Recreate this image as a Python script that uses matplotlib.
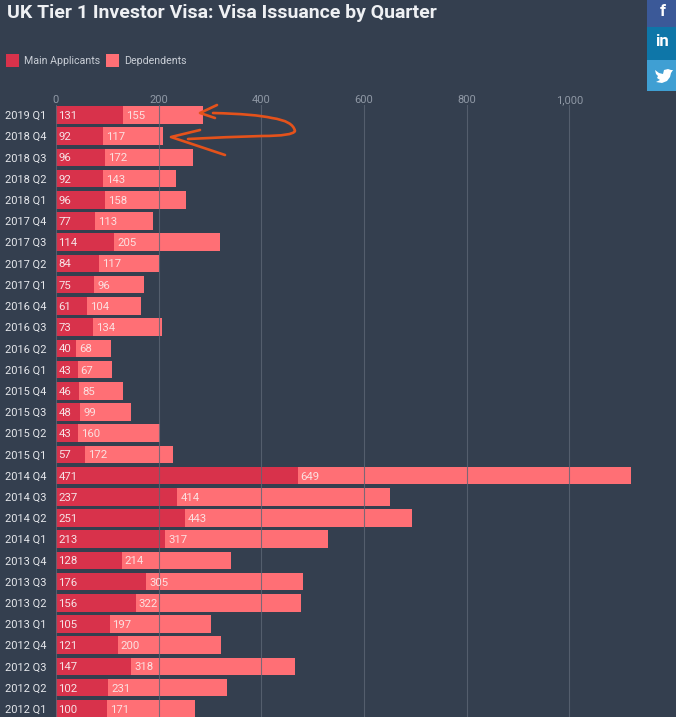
import matplotlib
matplotlib.use("Agg")
import matplotlib.pyplot as plt
from matplotlib.patches import Rectangle, PathPatch, Polygon
from matplotlib.path import Path
from matplotlib.transforms import Affine2D

plt.rcParams['font.family'] = ['Roboto', 'DejaVu Sans']

quarters = ["2019 Q1", "2018 Q4", "2018 Q3", "2018 Q2", "2018 Q1",
            "2017 Q4", "2017 Q3", "2017 Q2", "2017 Q1",
            "2016 Q4", "2016 Q3", "2016 Q2", "2016 Q1",
            "2015 Q4", "2015 Q3", "2015 Q2", "2015 Q1",
            "2014 Q4", "2014 Q3", "2014 Q2", "2014 Q1",
            "2013 Q4", "2013 Q3", "2013 Q2", "2013 Q1",
            "2012 Q4", "2012 Q3", "2012 Q2", "2012 Q1"]
main_applicants = [131, 92, 96, 92, 96, 77, 114, 84, 75, 61, 73, 40, 43, 46, 48, 43, 57,
                   471, 237, 251, 213, 128, 176, 156, 105, 121, 147, 102, 100]
dependents = [155, 117, 172, 143, 158, 113, 205, 117, 96, 104, 134, 68, 67, 85, 99, 160, 172,
              649, 414, 443, 317, 214, 305, 322, 197, 200, 318, 231, 171]
x_ticks = [0, 200, 400, 600, 800, 1000]
x_tick_labels = ["0", "200", "400", "600", "800", "1,000"]

BG = "#343f4f"
DARK = "#d8324b"
LIGHT = "#ff6f75"
W, H = 676, 717

fig = plt.figure(figsize=(W / 100, H / 100), dpi=100, facecolor=BG)
# pixel coordinates (origin at the top left) for page furniture
px = Affine2D().scale(1 / W, -1 / H).translate(0, 1) + fig.transFigure

PX_PER_UNIT = 0.5135
ROW = 21.21
left, right, top = 55.8, 650, 105
ax = fig.add_axes([left / W, 0, (right - left) / W, (H - top) / H], facecolor=BG)
ax.set_xlim(0, (right - left) / PX_PER_UNIT)
ax.set_ylim((H - 115) / ROW, -(115 - top) / ROW)

rows = list(range(len(quarters)))
ax.barh(rows, main_applicants, height=0.83, color=DARK, zorder=2)
ax.barh(rows, dependents, left=main_applicants, height=0.83, color=LIGHT, zorder=2)

ax.set_xticks(x_ticks, x_tick_labels)
ax.xaxis.tick_top()
ax.tick_params(axis="x", length=0, pad=0, labelsize=8, labelcolor="#8f98a5")
ax.set_yticks(rows, quarters)
ax.tick_params(axis="y", length=0, pad=7, labelsize=7.9, labelcolor="#e6e8ec")
for lab in ax.get_yticklabels():
    lab.set_ha("right")
ax.grid(axis="x", color="#5d6675", lw=0.8, alpha=0.8, zorder=3)
ax.set_axisbelow(False)
for s in ax.spines.values():
    s.set_visible(False)

for r, m, d in zip(rows, main_applicants, dependents):
    ax.annotate(str(m), (0, r), xytext=(2, 0), textcoords="offset points", va="center_baseline",
                color="#f6e3e6", fontsize=8.2, zorder=4)
    ax.annotate(str(d), (m, r), xytext=(2, 0), textcoords="offset points", va="center_baseline",
                color="#fbe0e0", fontsize=8.2, zorder=4)

fig.text(7, 13, "UK Tier 1 Investor Visa: Visa Issuance by Quarter", transform=px,
         color="#eef0f3", fontsize=14, fontweight="bold", va="center")

# legend
for x0, col, label, tx in [(6, DARK, "Main Applicants", 24), (106, LIGHT, "Depdendents", 124)]:
    fig.add_artist(Rectangle((x0, 54), 13, 13, transform=px, facecolor=col, edgecolor="none"))
    fig.text(tx, 60.5, label, transform=px, color="#c9ced6", fontsize=7.7, va="center")

# social buttons
for y0, h, col in [(0, 27, "#3b5998"), (27, 33, "#0e76a8"), (60, 31, "#3f9fd3")]:
    fig.add_artist(Rectangle((647, y0), 29, h, transform=px, facecolor=col, edgecolor="none"))
fig.text(663, 11, "f", transform=px, color="white", fontsize=12, fontweight="bold", ha="center", va="center")
fig.text(662.5, 41, "in", transform=px, color="white", fontsize=12, fontweight="bold", ha="center", va="center")
bird = [(655, 70), (659, 73), (663, 74), (664, 70), (668, 69), (671, 70), (673, 70), (671, 73),
        (670, 77), (667, 81), (662, 83), (656, 82), (660, 80), (657, 78), (658, 76), (656, 74)]
fig.add_artist(Polygon(bird, closed=True, transform=px, facecolor="white", edgecolor="none"))

# hand-drawn arrows
ORANGE = "#e4521b"
C3, M, L = Path.CURVE3, Path.MOVETO, Path.LINETO
strokes = [
    ([(213, 113), (255, 114), (272, 118), (293, 121), (295, 131), (293, 136), (262, 136),
      (225, 137), (188, 139)], [M, C3, C3, C3, C3, C3, C3, C3, C3]),
    ([(217, 105), (200, 113), (215, 118)], [M, L, L]),
    ([(200, 130), (171, 137), (225, 155)], [M, L, L]),
]
for verts, codes in strokes:
    fig.add_artist(PathPatch(Path(verts, codes), transform=px, facecolor="none", edgecolor=ORANGE,
                             lw=1.9, capstyle="round", joinstyle="round"))

fig.savefig("out.png", dpi=100, facecolor=BG)
